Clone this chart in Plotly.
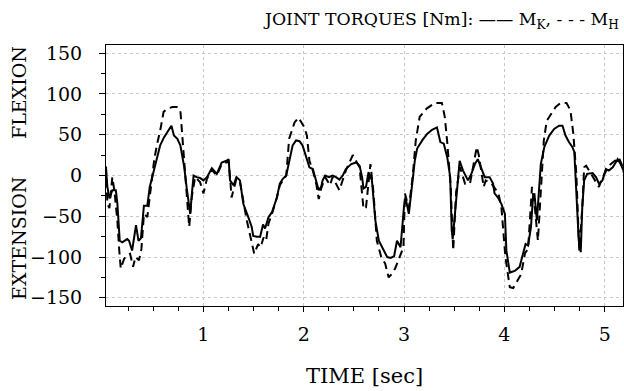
import plotly.graph_objects as go

# Knee joint torque M_K (solid), time in seconds
t_knee = [0.030, 0.044, 0.064, 0.093, 0.128, 0.143, 0.167, 0.192, 0.241, 0.260, 0.290, 0.329,
          0.354, 0.378, 0.408, 0.442, 0.466, 0.491, 0.525, 0.570, 0.609, 0.658, 0.682, 0.707,
          0.741, 0.771, 0.810, 0.835, 0.869, 0.889, 0.903, 0.933, 0.967, 1.001, 1.036, 1.085,
          1.134, 1.183, 1.232, 1.252, 1.266, 1.301, 1.330, 1.365, 1.399, 1.448, 1.482, 1.497,
          1.531, 1.566, 1.595, 1.615, 1.649, 1.684, 1.733, 1.762, 1.792, 1.826, 1.860, 1.890,
          1.924, 1.958, 1.988, 2.022, 2.057, 2.091, 2.125, 2.150, 2.174, 2.189, 2.214, 2.253,
          2.287, 2.322, 2.356, 2.390, 2.420, 2.474, 2.523, 2.557, 2.582, 2.596, 2.621, 2.646,
          2.680, 2.714, 2.749, 2.783, 2.832, 2.866, 2.901, 2.930, 2.965, 2.999, 3.014, 3.048,
          3.077, 3.107, 3.131, 3.181, 3.230, 3.279, 3.328, 3.362, 3.396, 3.431, 3.460, 3.475,
          3.485, 3.509, 3.554, 3.588, 3.637, 3.671, 3.706, 3.735, 3.769, 3.804, 3.853, 3.887,
          3.902, 3.936, 3.971, 4.005, 4.020, 4.054, 4.103, 4.152, 4.177, 4.211, 4.236, 4.265,
          4.285, 4.299, 4.324, 4.349, 4.363, 4.398, 4.447, 4.496, 4.545, 4.579, 4.609, 4.643,
          4.677, 4.697, 4.717, 4.741, 4.761, 4.776, 4.795, 4.825, 4.879, 4.913, 4.942, 4.977,
          5.011, 5.041, 5.080, 5.129, 5.158, 5.188]
m_knee = [8, -14, -28, -18, -18, -34, -80, -82, -78, -80, -92, -61,
          -80, -77, -37, -37, -14, -2, 15, 37, 47, 57, 61, 49,
          45, 37, 10, -16, -47, -18, 0, -2, -3, -6, -2, 9,
          2, 16, 18, 20, -6, -12, -2, -6, -35, -51, -63, -74,
          -75, -75, -60, -65, -51, -45, -27, -10, -4, 0, 22, 37,
          43, 42, 37, 22, 10, 8, -6, -18, -14, -6, 0, -2,
          0, -2, -5, 0, 8, 14, 16, 12, -2, -16, -14, 4,
          -6, -55, -80, -88, -100, -101, -99, -80, -88, -39, -27, -47,
          -18, 18, 33, 43, 51, 56, 59, 41, 39, 22, -2, -67,
          -78, -47, 18, 6, -6, 2, 14, 20, 10, -2, -2, -10,
          -22, -27, -35, -47, -92, -119, -117, -112, -100, -84, -86, -63,
          -27, -22, -55, -6, 14, 35, 49, 57, 61, 61, 49, 41,
          35, 29, -27, -80, -94, -39, -6, 2, 3, -2, -10, -6,
          8, 6, 10, 20, 14, 6]

# Hip joint torque M_H (dashed)
t_hip = [0.030, 0.044, 0.064, 0.093, 0.113, 0.143, 0.162, 0.177, 0.211, 0.241, 0.270, 0.300,
         0.324, 0.359, 0.383, 0.408, 0.442, 0.476, 0.511, 0.540, 0.570, 0.604, 0.643, 0.692,
         0.736, 0.771, 0.781, 0.800, 0.825, 0.839, 0.859, 0.884, 0.918, 0.967, 1.001, 1.036,
         1.085, 1.134, 1.183, 1.232, 1.252, 1.271, 1.281, 1.330, 1.365, 1.433, 1.482, 1.507,
         1.546, 1.571, 1.600, 1.625, 1.649, 1.684, 1.733, 1.762, 1.826, 1.841, 1.855, 1.909,
         1.949, 2.007, 2.032, 2.057, 2.091, 2.125, 2.150, 2.174, 2.214, 2.263, 2.287, 2.356,
         2.390, 2.420, 2.489, 2.523, 2.557, 2.596, 2.621, 2.665, 2.695, 2.729, 2.773, 2.812,
         2.847, 2.876, 2.911, 2.994, 3.009, 3.048, 3.087, 3.117, 3.156, 3.225, 3.308, 3.377,
         3.406, 3.431, 3.465, 3.490, 3.519, 3.558, 3.608, 3.657, 3.725, 3.745, 3.794, 3.814,
         3.873, 3.941, 3.971, 4.010, 4.054, 4.088, 4.167, 4.206, 4.236, 4.275, 4.304, 4.334,
         4.363, 4.393, 4.422, 4.511, 4.560, 4.619, 4.658, 4.687, 4.717, 4.746, 4.776, 4.795,
         4.815, 4.864, 4.913, 4.942, 4.972, 5.041, 5.139, 5.168, 5.188]
m_hip = [11, -35, -40, -2, -18, -55, -92, -114, -102, -98, -96, -112,
         -100, -104, -90, -47, -51, -18, 20, 39, 55, 78, 82, 84,
         84, 80, 63, 39, -6, -31, -63, -27, -2, -8, -22, -4,
         7, 0, 14, 16, 18, -10, -27, -4, -8, -55, -82, -96,
         -84, -88, -76, -80, -59, -47, -27, -12, 0, 20, 45, 65,
         71, 59, 49, 18, 6, -10, -29, -16, -2, -12, -2, -18,
         -4, 6, 25, 18, 10, -41, -39, 14, -20, -80, -100, -108,
         -125, -121, -114, -88, -22, -40, 0, 43, 72, 82, 89, 89,
         72, 40, -14, -92, -20, 10, -10, -10, 35, 25, -14, -6,
         -10, -22, -40, -100, -137, -138, -121, -95, -90, -14, -40, -80,
         -20, 43, 67, 84, 89, 89, 80, 51, 2, -92, -40, 10,
         12, 2, -8, -14, -4, 12, 22, 14, 4]

y_ticks = [-150, -100, -50, 0, 50, 100, 150]
x_ticks = [1, 2, 3, 4, 5]

serif = "DejaVu Serif"
black = "black"

fig = go.Figure()
fig.add_trace(go.Scatter(x=t_knee, y=m_knee, mode="lines", name="M_K",
                         line=dict(color=black, width=2)))
fig.add_trace(go.Scatter(x=t_hip, y=m_hip, mode="lines", name="M_H",
                         line=dict(color=black, width=2, dash="8px,5px")))

axis_common = dict(showline=True, linecolor=black, linewidth=1, mirror=True,
                   ticks="outside", tickcolor=black, zeroline=False,
                   showgrid=True, gridcolor="#c8c8c8", griddash="dot", gridwidth=1,
                   tickfont=dict(family=serif, size=19, color=black))

fig.update_xaxes(range=[0.030, 5.182], tickvals=x_ticks, ticklen=5, ticklabelstandoff=6,
                 minor=dict(dtick=0.25, tick0=0, ticks="outside", ticklen=4,
                            tickcolor=black, showgrid=False),
                 **axis_common)
fig.update_yaxes(range=[-160, 160], tickvals=y_ticks, ticklen=6, ticklabelstandoff=13,
                 minor=dict(dtick=25, tick0=0, ticks="outside", ticklen=4,
                            tickcolor=black, showgrid=False),
                 **axis_common)

fig.add_annotation(text="JOINT TORQUES [Nm]: —— M<sub>K</sub>, - - - M<sub>H</sub>",
                   xref="paper", yref="paper", x=1.0, y=1.0, xanchor="right", yanchor="bottom",
                   xshift=-2, yshift=11, showarrow=False,
                   font=dict(family=serif, size=17.3, color=black))
fig.add_annotation(text="FLEXION", xref="paper", yref="paper", x=0, y=0.816,
                   xanchor="center", yanchor="middle", xshift=-87, textangle=-90,
                   showarrow=False, font=dict(family=serif, size=19, color=black))
fig.add_annotation(text="EXTENSION", xref="paper", yref="paper", x=0, y=0.257,
                   xanchor="center", yanchor="middle", xshift=-87, textangle=-90,
                   showarrow=False, font=dict(family=serif, size=19, color=black))
fig.add_annotation(text="TIME [sec]", xref="paper", yref="paper", x=0.5, y=0,
                   xanchor="center", yanchor="middle", yshift=-70,
                   showarrow=False, font=dict(family=serif, size=21, color=black))

fig.update_layout(width=624, height=391, margin=dict(l=106, r=1, t=45, b=85),
                  paper_bgcolor="white", plot_bgcolor="white", showlegend=False)

fig.write_html("out.html")
